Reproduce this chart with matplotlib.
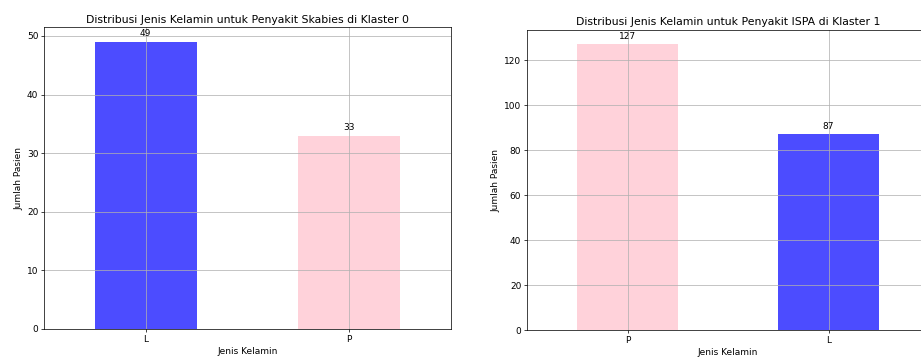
import matplotlib.pyplot as plt

# data
kategori1 = ['L', 'P']
jumlah1 = [49, 33]
warna1 = ['blue', 'pink']

kategori2 = ['P', 'L']
jumlah2 = [127, 87]
warna2 = ['pink', 'blue']

plt.rcParams['font.size'] = 11.2
plt.rcParams['axes.linewidth'] = 0.9
plt.rcParams['grid.linewidth'] = 0.9
plt.rcParams['xtick.major.width'] = 0.9
plt.rcParams['ytick.major.width'] = 0.9

dpi = 58
fig = plt.figure(figsize=(921 / dpi, 358 / dpi), dpi=dpi)

W, H = 921.0, 358.0
ax1 = fig.add_axes([44 / W, 1 - 329 / H, (451 - 44) / W, (329 - 27.5) / H])
ax2 = fig.add_axes([527 / W, 1 - 330 / H, (929 - 527) / W, (330 - 30) / H])


def gambar(ax, kategori, jumlah, warna, judul):
    x = list(range(len(kategori)))
    bars = ax.bar(x, jumlah, width=0.5, color=warna, alpha=0.7)
    ax.set_xlim(-0.5, len(kategori) - 0.5)
    ax.set_ylim(0, max(jumlah) * 1.05)
    ax.set_xticks(x)
    ax.set_xticklabels(kategori, rotation=0)
    ax.set_title(judul)
    ax.set_xlabel('Jenis Kelamin')
    ax.set_ylabel('Jumlah Pasien')
    ax.grid(True)
    for b in bars:
        ax.annotate('{}'.format(int(b.get_height())),
                    (b.get_x() + b.get_width() / 2., b.get_height()),
                    ha='center', va='center', xytext=(0, 10),
                    textcoords='offset points')


gambar(ax1, kategori1, jumlah1, warna1, 'Distribusi Jenis Kelamin untuk Penyakit Skabies di Klaster 0')
gambar(ax2, kategori2, jumlah2, warna2, 'Distribusi Jenis Kelamin untuk Penyakit ISPA di Klaster 1')

fig.savefig('out.png', dpi=dpi)
